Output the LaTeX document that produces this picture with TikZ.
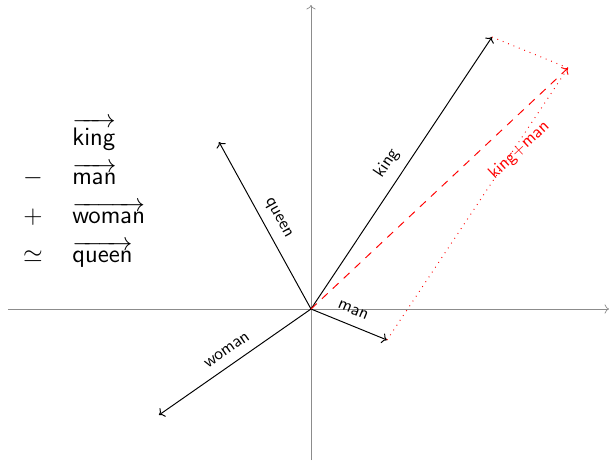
\documentclass[tikz,border=0pt]{standalone}
\usepackage{amsmath,amssymb}
\usetikzlibrary{arrows.meta}
\definecolor{axisgray}{HTML}{8C8C8C}

\begin{document}
\begin{tikzpicture}[font=\fontsize{10}{12}\selectfont\sffamily,
 axis/.style={->,axisgray,line width=.4pt},
 vec/.style={->,line width=.55pt},
 sumvec/.style={->,red,line width=.55pt,dash pattern=on 4.5pt off 4pt},
 guide/.style={red,line width=.55pt,dash pattern=on .5pt off 2.8pt},
 eq/.style={font=\fontsize{14}{17}\selectfont,anchor=base west,inner sep=0pt}]
\path[use as bounding box] (-6.22,-3.02) rectangle (5.96,6.18);
\coordinate (O) at (0,0);
\coordinate (xl) at (-6.06,0);
\coordinate (xr) at (5.96,0);
\coordinate (yb) at (0,-3.02);
\coordinate (yt) at (0,6.08);
\coordinate (king) at (3.62,5.44);
\coordinate (man) at (1.52,-.62);
\coordinate (queen) at (-1.84,3.34);
\coordinate (woman) at (-3.04,-2.12);
\coordinate (sum) at (5.14,4.82);
% axes
\draw[axis] (xl) -- (xr);
\draw[axis] (yb) -- (yt);
% word vectors
\draw[vec] (O) -- (king) node[pos=.5,sloped,above=2pt] {king};
\draw[vec] (O) -- (man) node[pos=.48,sloped,above=2.5pt] {man};
\draw[vec] (O) -- (queen) node[pos=.5,sloped,above=1.5pt] {queen};
\draw[vec] (O) -- (woman) node[pos=.5,sloped,above=2pt] {woman};
% parallelogram completion
\draw[guide] (king) -- (sum);
\draw[guide] (man) -- (sum);
\draw[sumvec] (O) -- (sum) node[pos=.74,sloped,below=7pt] {king+man};
% the analogy written out
\node[eq] (wking) at (-4.78,3.28) {$\overrightarrow{\mathsf{king}}$};
\node[eq] (wman) at (-4.78,2.50) {$\overrightarrow{\mathsf{man}}$};
\node[eq] (wwoman) at (-4.78,1.72) {$\overrightarrow{\mathsf{woman}}$};
\node[eq] (wqueen) at (-4.78,.94) {$\overrightarrow{\mathsf{queen}}$};
\node[eq,anchor=base] (minus) at (-5.56,2.50) {$-$};
\node[eq,anchor=base] (plus) at (-5.56,1.72) {$+$};
\node[eq,anchor=base] (approx) at (-5.56,.94) {$\simeq$};
\end{tikzpicture}
\end{document}
